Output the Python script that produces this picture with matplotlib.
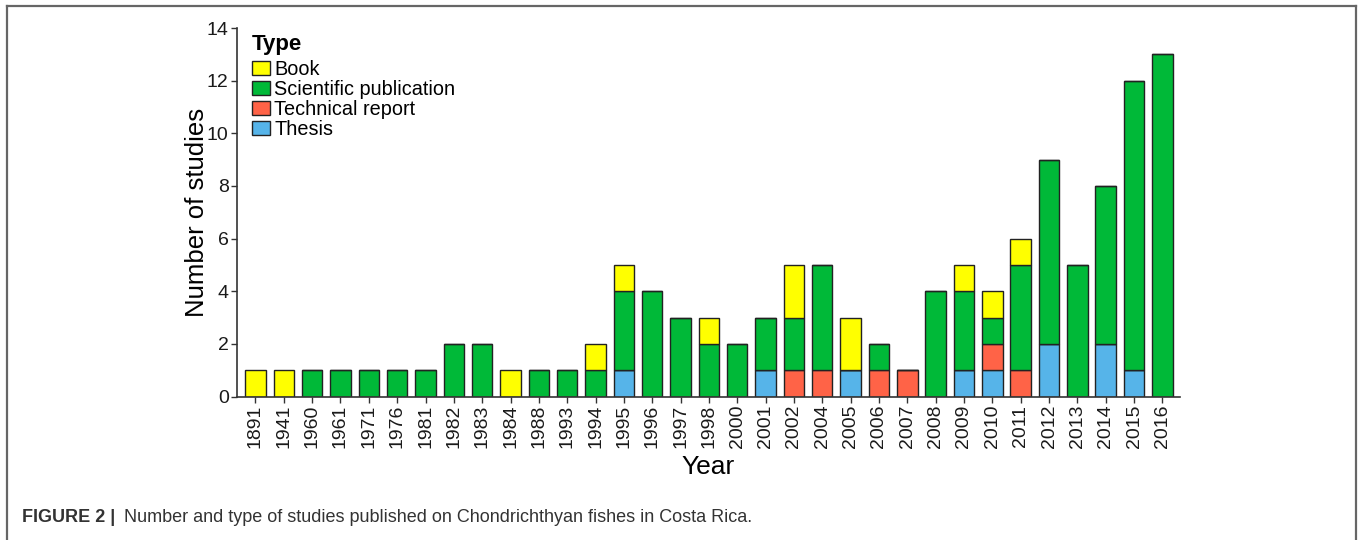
import numpy as np
import matplotlib.pyplot as plt
from matplotlib.lines import Line2D

plt.rcParams['font.family'] = ['Liberation Sans', 'DejaVu Sans']

years = ['1891', '1941', '1960', '1961', '1971', '1976', '1981', '1982', '1983',
         '1984', '1988', '1993', '1994', '1995', '1996', '1997', '1998', '2000',
         '2001', '2002', '2004', '2005', '2006', '2007', '2008', '2009', '2010',
         '2011', '2012', '2013', '2014', '2015', '2016']

# counts per type, stacked bottom -> top: thesis, technical, scientific, book
thesis     = [0, 0, 0, 0, 0, 0, 0, 0, 0, 0, 0, 0, 0, 1, 0, 0, 0, 0,
              1, 0, 0, 1, 0, 0, 0, 1, 1, 0, 2, 0, 2, 1, 0]
technical  = [0, 0, 0, 0, 0, 0, 0, 0, 0, 0, 0, 0, 0, 0, 0, 0, 0, 0,
              0, 1, 1, 0, 1, 1, 0, 0, 1, 1, 0, 0, 0, 0, 0]
scientific = [0, 0, 1, 1, 1, 1, 1, 2, 2, 0, 1, 1, 1, 3, 4, 3, 2, 2,
              2, 2, 4, 0, 1, 0, 4, 3, 1, 4, 7, 5, 6, 11, 13]
book       = [1, 1, 0, 0, 0, 0, 0, 0, 0, 1, 0, 0, 1, 1, 0, 0, 1, 0,
              0, 2, 0, 2, 0, 0, 0, 1, 1, 1, 0, 0, 0, 0, 0]

series = [('Thesis', thesis, '#56B4E9'),
          ('Technical report', technical, '#FF6347'),
          ('Scientific publication', scientific, '#00B938'),
          ('Book', book, '#FFFF00')]

fig = plt.figure(figsize=(13.6, 5.4), dpi=100)
ax = fig.add_axes([0.1743, 0.2657, 0.6933, 0.6823])

x = np.arange(len(years))
bottom = np.zeros(len(years))
handles = {}
for name, vals, col in series:
    vals = np.array(vals, dtype=float)
    bars = ax.bar(x, vals, width=0.72, bottom=bottom, color=col,
                  edgecolor='#222222', linewidth=1.0, zorder=2)
    handles[name] = bars
    bottom += vals

ax.set_xlim(-0.65, len(years) - 1 + 0.62)
ax.set_ylim(0, 14)
ax.set_yticks(np.arange(0, 15, 2))
ax.set_xticks(x)
ax.set_xticklabels(years, rotation=90)
ax.tick_params(axis='both', labelsize=14, color='#333333', width=1.0,
               length=4, labelcolor='#1a1a1a', pad=2)

for s in ['top', 'right']:
    ax.spines[s].set_visible(False)
for s in ['left', 'bottom']:
    ax.spines[s].set_color('#333333')
    ax.spines[s].set_linewidth(1.2)

ax.set_xlabel('Year', fontsize=19, labelpad=5)
ax.set_ylabel('Number of studies', fontsize=18.5, labelpad=-1.3)

order = ['Book', 'Scientific publication', 'Technical report', 'Thesis']
leg = ax.legend([handles[k] for k in order], order, loc='upper left',
                bbox_to_anchor=(0.016, 0.985), frameon=False, fontsize=14.3,
                title='Type', title_fontproperties={'weight': 'bold', 'size': 16},
                alignment='left', handlelength=0.9, handleheight=0.72,
                handletextpad=0.22, labelspacing=0.04, borderpad=0, borderaxespad=0)
leg._legend_box.sep = 4

# page frame and caption
frame_col = '#666666'
top_y = 1 - 6 / 540
for xs, ys in [([7 / 1360, 7 / 1360], [0, top_y]),
               ([7 / 1360, 1356 / 1360], [top_y, top_y]),
               ([1356 / 1360, 1356 / 1360], [0, top_y])]:
    fig.add_artist(Line2D(xs, ys, transform=fig.transFigure, color=frame_col, lw=1.6))

cap_y = 1 - 517 / 540
head = fig.text(22 / 1360, cap_y, 'FIGURE 2 |', fontsize=13, weight='bold',
                color='#333333', va='center')
fig.canvas.draw()
bb = head.get_window_extent()
fig.text((bb.x1 + 9) / 1360, cap_y,
         'Number and type of studies published on Chondrichthyan fishes in Costa Rica.',
         fontsize=13, color='#333333', va='center')

fig.savefig('out.png', dpi=100)
